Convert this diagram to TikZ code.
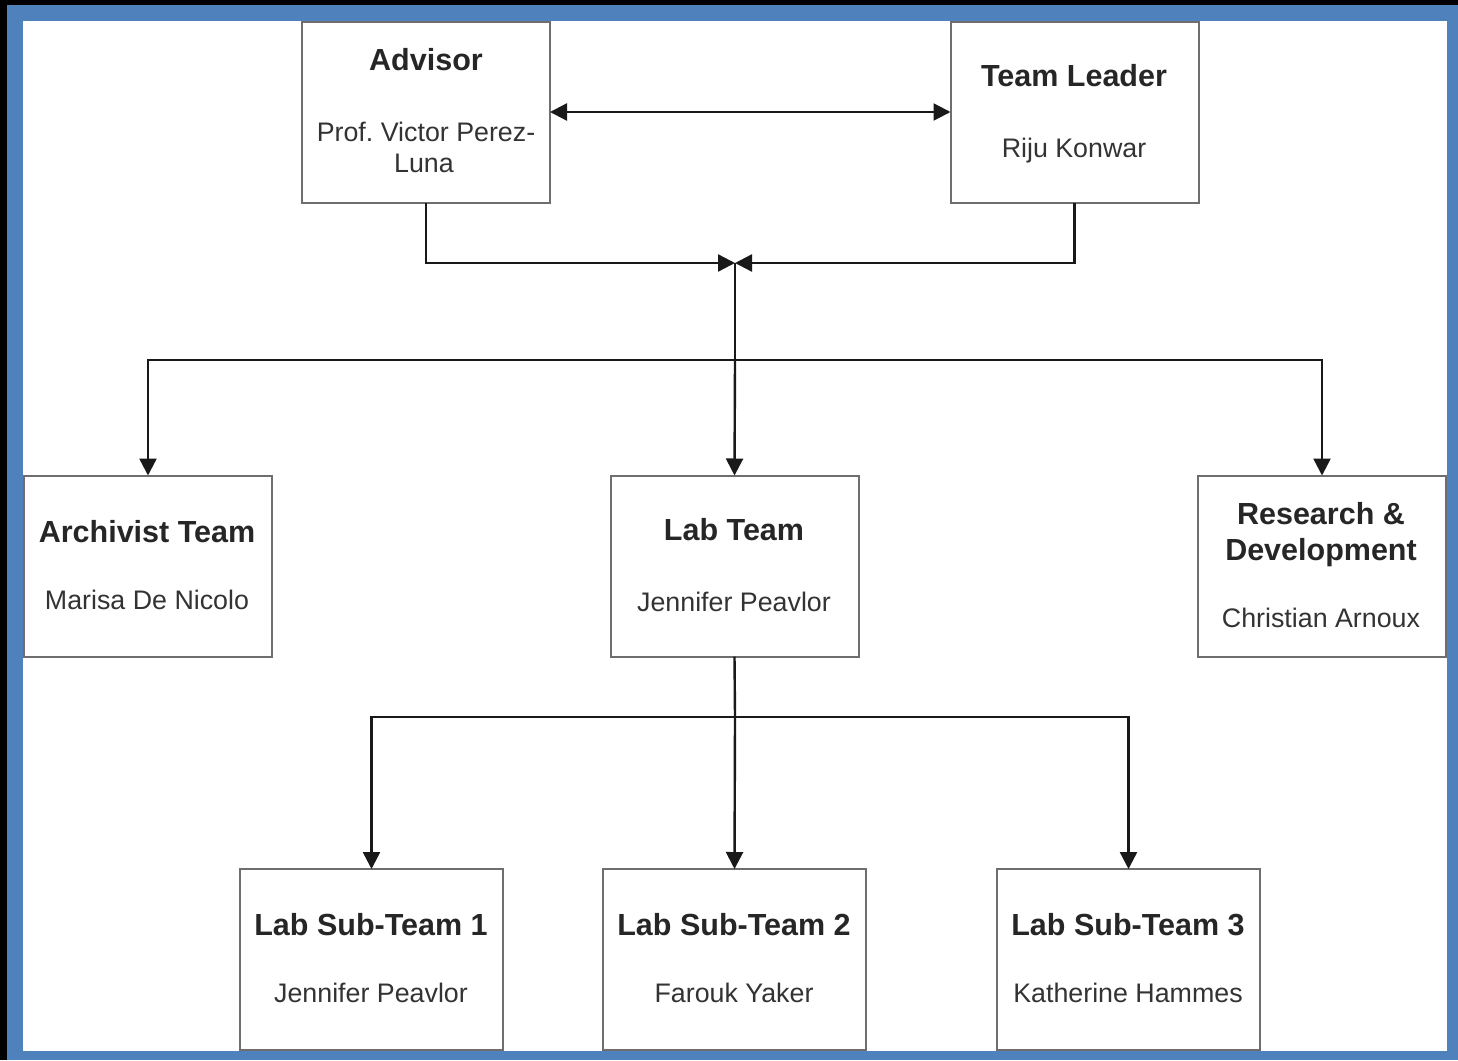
\documentclass[tikz,border=0pt]{standalone}
\usepackage{fontspec}
\setmainfont{Liberation Sans}
\usetikzlibrary{arrows.meta}
\definecolor{frameblue}{RGB}{79,129,189}
\definecolor{boxgray}{RGB}{110,110,110}
\tikzset{
  orgbox/.style={draw=boxgray, line width=2pt, fill=white, minimum width=#1, minimum height=181pt, inner sep=0pt, outer sep=0pt},
  ttl/.style={font=\fontsize{30.5}{36}\selectfont\bfseries, anchor=base, inner sep=0pt, text=black!85},
  nm/.style={font=\fontsize{26.8}{31}\selectfont, anchor=base, inner sep=0pt, text=black!80},
  conn/.style={draw=black!90, line width=2.4pt},
  arr/.style={conn, -{Triangle[length=17pt,width=17pt]}},
  darr/.style={conn, {Triangle[length=17pt,width=17pt]}-{Triangle[length=17pt,width=17pt]}}
}
\begin{document}
\begin{tikzpicture}[x=1pt,y=-1pt]
\useasboundingbox (0,0) rectangle (1458,1060);
\fill[black] (0,0) rectangle (1458,1060);
\fill[frameblue] (7,5) rectangle (1458,1060);
\fill[white] (23,21) rectangle (1447,1051);

% boxes
\node[orgbox=248pt] (adv) at (426,112.5) {};
\node[orgbox=248pt] (lead) at (1074.5,112.5) {};
\node[orgbox=248pt] (arch) at (148,566) {};
\node[orgbox=248pt] (lab) at (734.5,566) {};
\node[orgbox=248pt] (rd) at (1322,566) {};
\node[orgbox=263pt] (s1) at (371.5,959.5) {};
\node[orgbox=263pt] (s2) at (734.5,959.5) {};
\node[orgbox=263pt] (s3) at (1128.5,959.5) {};

% texts
\node[ttl] (advT) at (426,70) {Advisor};
\node[nm] (advN1) at (426,141) {Prof.\ Victor Perez-};
\node[nm] (advN2) at (424,172) {Luna};
\node[ttl] (leadT) at (1074,86) {Team Leader};
\node[nm] (leadN) at (1074,157) {Riju Konwar};
\node[ttl] (archT) at (147,542) {Archivist Team};
\node[nm] (archN) at (147,609) {Marisa De Nicolo};
\node[ttl] (labT) at (734,540) {Lab Team};
\node[nm] (labN) at (734,611) {Jennifer Peavlor};
\node[ttl] (rdT1) at (1321,524) {Research \&};
\node[ttl] (rdT2) at (1321,560) {Development};
\node[nm] (rdN) at (1321,627) {Christian Arnoux};
\node[ttl] (s1T) at (371,935) {Lab Sub-Team 1};
\node[nm] (s1N) at (371,1002) {Jennifer Peavlor};
\node[ttl] (s2T) at (734,935) {Lab Sub-Team 2};
\node[nm] (s2N) at (734,1002) {Farouk Yaker};
\node[ttl] (s3T) at (1128,935) {Lab Sub-Team 3};
\node[nm] (s3N) at (1128,1002) {Katherine Hammes};

% connectors
\coordinate (mid) at (735,263);
\coordinate (bus) at (735,360);
\coordinate (bus2) at (735,717);
\draw[darr] (adv.east |- 0,112) -- (lead.west |- 0,112);
\draw[arr] (adv.south) |- (mid);
\draw[arr] (lead.south) |- (mid);
\draw[conn] (mid) -- (bus);
\draw[arr] (bus) -| (arch.north);
\draw[arr] (bus) -| (rd.north);
\draw[arr] (bus) -- (lab.north);
\draw[conn] (lab.south) -- (bus2);
\draw[arr] (bus2) -| (s1.north);
\draw[arr] (bus2) -| (s3.north);
\draw[arr] (bus2) -- (s2.north);
\end{tikzpicture}
\end{document}
